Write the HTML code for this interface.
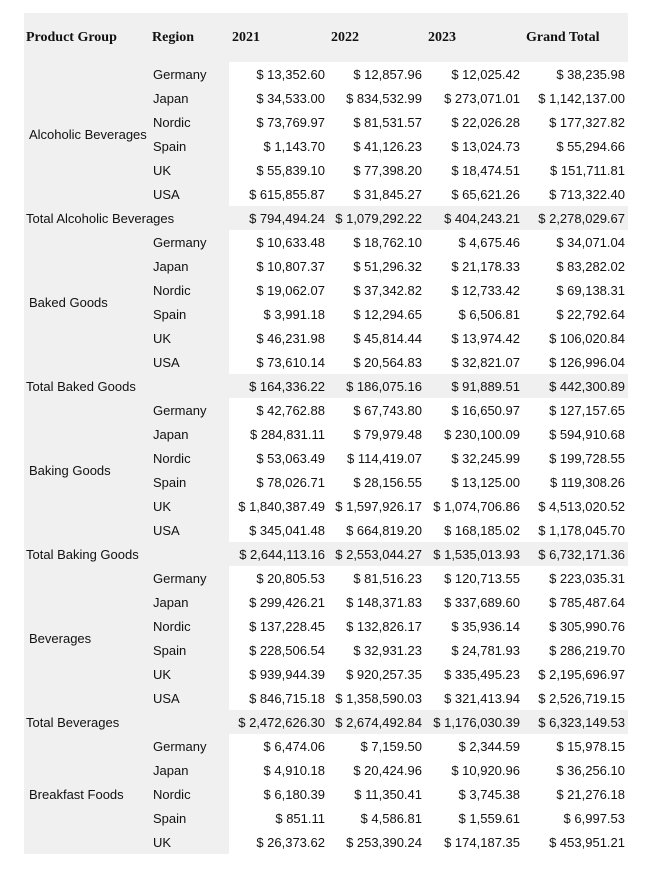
<!DOCTYPE html>
<html><head><meta charset="utf-8"><style>
body{margin:0;background:#fff;}
table{position:absolute;left:24px;top:13px;border-collapse:collapse;table-layout:fixed;width:604px;font-family:"Liberation Sans",sans-serif;font-size:13px;color:#111;}
td,th{padding:0;height:24px;white-space:nowrap;overflow:visible;}
th{height:49px;font-family:"Liberation Serif",serif;font-weight:bold;font-size:14px;text-align:left;background:#f0f0f0;padding-left:3px;}
th.c0{padding-left:2px}
td.g{background:#f0f0f0;padding-left:5px;}
td.r{background:#f0f0f0;padding-left:4px;}
td.v{text-align:right;padding-right:3px;background:#fff;}
tr.t td{background:#f0f0f0;}
tr.t td.l{padding-left:2px;}
</style></head><body>
<table>
<colgroup><col style="width:125px"><col style="width:80px"><col style="width:99px"><col style="width:97px"><col style="width:98px"><col style="width:105px"></colgroup>
<tr><th class="c0">Product Group</th><th>Region</th><th>2021</th><th>2022</th><th>2023</th><th>Grand Total</th></tr>
<tr><td class="g" rowspan="6">Alcoholic Beverages</td><td class="r">Germany</td><td class="v">$ 13,352.60</td><td class="v">$ 12,857.96</td><td class="v">$ 12,025.42</td><td class="v">$ 38,235.98</td></tr>
<tr><td class="r">Japan</td><td class="v">$ 34,533.00</td><td class="v">$ 834,532.99</td><td class="v">$ 273,071.01</td><td class="v">$ 1,142,137.00</td></tr>
<tr><td class="r">Nordic</td><td class="v">$ 73,769.97</td><td class="v">$ 81,531.57</td><td class="v">$ 22,026.28</td><td class="v">$ 177,327.82</td></tr>
<tr><td class="r">Spain</td><td class="v">$ 1,143.70</td><td class="v">$ 41,126.23</td><td class="v">$ 13,024.73</td><td class="v">$ 55,294.66</td></tr>
<tr><td class="r">UK</td><td class="v">$ 55,839.10</td><td class="v">$ 77,398.20</td><td class="v">$ 18,474.51</td><td class="v">$ 151,711.81</td></tr>
<tr><td class="r">USA</td><td class="v">$ 615,855.87</td><td class="v">$ 31,845.27</td><td class="v">$ 65,621.26</td><td class="v">$ 713,322.40</td></tr>
<tr class="t"><td class="l" colspan="2">Total Alcoholic Beverages</td><td class="v">$ 794,494.24</td><td class="v">$ 1,079,292.22</td><td class="v">$ 404,243.21</td><td class="v">$ 2,278,029.67</td></tr>
<tr><td class="g" rowspan="6">Baked Goods</td><td class="r">Germany</td><td class="v">$ 10,633.48</td><td class="v">$ 18,762.10</td><td class="v">$ 4,675.46</td><td class="v">$ 34,071.04</td></tr>
<tr><td class="r">Japan</td><td class="v">$ 10,807.37</td><td class="v">$ 51,296.32</td><td class="v">$ 21,178.33</td><td class="v">$ 83,282.02</td></tr>
<tr><td class="r">Nordic</td><td class="v">$ 19,062.07</td><td class="v">$ 37,342.82</td><td class="v">$ 12,733.42</td><td class="v">$ 69,138.31</td></tr>
<tr><td class="r">Spain</td><td class="v">$ 3,991.18</td><td class="v">$ 12,294.65</td><td class="v">$ 6,506.81</td><td class="v">$ 22,792.64</td></tr>
<tr><td class="r">UK</td><td class="v">$ 46,231.98</td><td class="v">$ 45,814.44</td><td class="v">$ 13,974.42</td><td class="v">$ 106,020.84</td></tr>
<tr><td class="r">USA</td><td class="v">$ 73,610.14</td><td class="v">$ 20,564.83</td><td class="v">$ 32,821.07</td><td class="v">$ 126,996.04</td></tr>
<tr class="t"><td class="l" colspan="2">Total Baked Goods</td><td class="v">$ 164,336.22</td><td class="v">$ 186,075.16</td><td class="v">$ 91,889.51</td><td class="v">$ 442,300.89</td></tr>
<tr><td class="g" rowspan="6">Baking Goods</td><td class="r">Germany</td><td class="v">$ 42,762.88</td><td class="v">$ 67,743.80</td><td class="v">$ 16,650.97</td><td class="v">$ 127,157.65</td></tr>
<tr><td class="r">Japan</td><td class="v">$ 284,831.11</td><td class="v">$ 79,979.48</td><td class="v">$ 230,100.09</td><td class="v">$ 594,910.68</td></tr>
<tr><td class="r">Nordic</td><td class="v">$ 53,063.49</td><td class="v">$ 114,419.07</td><td class="v">$ 32,245.99</td><td class="v">$ 199,728.55</td></tr>
<tr><td class="r">Spain</td><td class="v">$ 78,026.71</td><td class="v">$ 28,156.55</td><td class="v">$ 13,125.00</td><td class="v">$ 119,308.26</td></tr>
<tr><td class="r">UK</td><td class="v">$ 1,840,387.49</td><td class="v">$ 1,597,926.17</td><td class="v">$ 1,074,706.86</td><td class="v">$ 4,513,020.52</td></tr>
<tr><td class="r">USA</td><td class="v">$ 345,041.48</td><td class="v">$ 664,819.20</td><td class="v">$ 168,185.02</td><td class="v">$ 1,178,045.70</td></tr>
<tr class="t"><td class="l" colspan="2">Total Baking Goods</td><td class="v">$ 2,644,113.16</td><td class="v">$ 2,553,044.27</td><td class="v">$ 1,535,013.93</td><td class="v">$ 6,732,171.36</td></tr>
<tr><td class="g" rowspan="6">Beverages</td><td class="r">Germany</td><td class="v">$ 20,805.53</td><td class="v">$ 81,516.23</td><td class="v">$ 120,713.55</td><td class="v">$ 223,035.31</td></tr>
<tr><td class="r">Japan</td><td class="v">$ 299,426.21</td><td class="v">$ 148,371.83</td><td class="v">$ 337,689.60</td><td class="v">$ 785,487.64</td></tr>
<tr><td class="r">Nordic</td><td class="v">$ 137,228.45</td><td class="v">$ 132,826.17</td><td class="v">$ 35,936.14</td><td class="v">$ 305,990.76</td></tr>
<tr><td class="r">Spain</td><td class="v">$ 228,506.54</td><td class="v">$ 32,931.23</td><td class="v">$ 24,781.93</td><td class="v">$ 286,219.70</td></tr>
<tr><td class="r">UK</td><td class="v">$ 939,944.39</td><td class="v">$ 920,257.35</td><td class="v">$ 335,495.23</td><td class="v">$ 2,195,696.97</td></tr>
<tr><td class="r">USA</td><td class="v">$ 846,715.18</td><td class="v">$ 1,358,590.03</td><td class="v">$ 321,413.94</td><td class="v">$ 2,526,719.15</td></tr>
<tr class="t"><td class="l" colspan="2">Total Beverages</td><td class="v">$ 2,472,626.30</td><td class="v">$ 2,674,492.84</td><td class="v">$ 1,176,030.39</td><td class="v">$ 6,323,149.53</td></tr>
<tr><td class="g" rowspan="5">Breakfast Foods</td><td class="r">Germany</td><td class="v">$ 6,474.06</td><td class="v">$ 7,159.50</td><td class="v">$ 2,344.59</td><td class="v">$ 15,978.15</td></tr>
<tr><td class="r">Japan</td><td class="v">$ 4,910.18</td><td class="v">$ 20,424.96</td><td class="v">$ 10,920.96</td><td class="v">$ 36,256.10</td></tr>
<tr><td class="r">Nordic</td><td class="v">$ 6,180.39</td><td class="v">$ 11,350.41</td><td class="v">$ 3,745.38</td><td class="v">$ 21,276.18</td></tr>
<tr><td class="r">Spain</td><td class="v">$ 851.11</td><td class="v">$ 4,586.81</td><td class="v">$ 1,559.61</td><td class="v">$ 6,997.53</td></tr>
<tr><td class="r">UK</td><td class="v">$ 26,373.62</td><td class="v">$ 253,390.24</td><td class="v">$ 174,187.35</td><td class="v">$ 453,951.21</td></tr>
</table>
</body></html>
